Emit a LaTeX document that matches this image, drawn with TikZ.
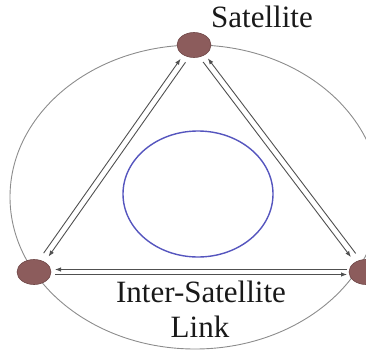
\documentclass[tikz,border=0pt]{standalone}
\usepackage{fontspec}
\setmainfont{Liberation Serif}
\newfontfamily\lblfont{Liberation Serif}
\usetikzlibrary{shapes.geometric,arrows.meta,calc}
\definecolor{satfill}{RGB}{140,92,92}
\definecolor{satdraw}{RGB}{110,70,70}
\definecolor{orbitc}{RGB}{140,140,140}
\definecolor{bluec}{RGB}{85,85,190}
\definecolor{linkc}{RGB}{80,80,80}
\tikzset{
  sat/.style={ellipse, fill=satfill, draw=satdraw, line width=0.6pt, minimum width=34pt, minimum height=25pt, inner sep=0pt},
  linkline/.style={draw=linkc, line width=0.9pt},
  linkarrow/.style={linkline, -{Latex[length=6pt,width=4.5pt]}},
  lbl/.style={font=\lblfont\fontsize{31}{34}\selectfont, inner sep=0pt, text=black!90}
}
\begin{document}
\begin{tikzpicture}[x=1pt,y=-1pt]
\useasboundingbox (0,0) rectangle (366,353);
\clip (0,0) rectangle (366,353);
% orbit
\draw[orbitc, line width=0.9pt] (195,197) ellipse [x radius=185pt, y radius=152pt];
% inner blue circle
\draw[bluec, line width=1.4pt] (198,194) ellipse [x radius=75pt, y radius=63pt];
% satellites
\node[sat] (T) at (194,45) {};
\node[sat] (L) at (34,272) {};
\node[sat] (R) at (366,272) {};
% endpoints of links
\coordinate (TL1) at ($(T)!19pt!(L)$);
\coordinate (LT1) at ($(L)!21pt!(T)$);
\coordinate (TR1) at ($(T)!19pt!(R)$);
\coordinate (RT1) at ($(R)!21pt!(T)$);
\coordinate (LR1) at ($(L)!21pt!(R)$);
\coordinate (RL1) at ($(R)!19pt!(L)$);
% left link: outer line -> arrow to L, inner line -> arrow to T
\draw[linkarrow] ($(TL1)!3pt!90:(LT1)$) -- ($(LT1)!3pt!-90:(TL1)$);
\draw[linkarrow] ($(LT1)!3pt!90:(TL1)$) -- ($(TL1)!3pt!-90:(LT1)$);
% right link
\draw[linkarrow] ($(TR1)!3pt!-90:(RT1)$) -- ($(RT1)!3pt!90:(TR1)$);
\draw[linkarrow] ($(RT1)!3pt!-90:(TR1)$) -- ($(TR1)!3pt!90:(RT1)$);
% bottom link: upper line arrow to L, lower line arrow to R
\draw[linkarrow] ($(RL1)+(0,-2.5)$) -- ($(LR1)+(0,-2.5)$);
\draw[linkarrow] ($(LR1)+(0,2.5)$) -- ($(RL1)+(0,2.5)$);
% labels
\node[lbl, anchor=base] (satlbl) at (262,28) {Satellite};
\node[lbl, anchor=base] (isl1) at (201,302) {Inter-Satellite};
\node[lbl, anchor=base] (isl2) at (200,337) {Link};
\end{tikzpicture}
\end{document}
